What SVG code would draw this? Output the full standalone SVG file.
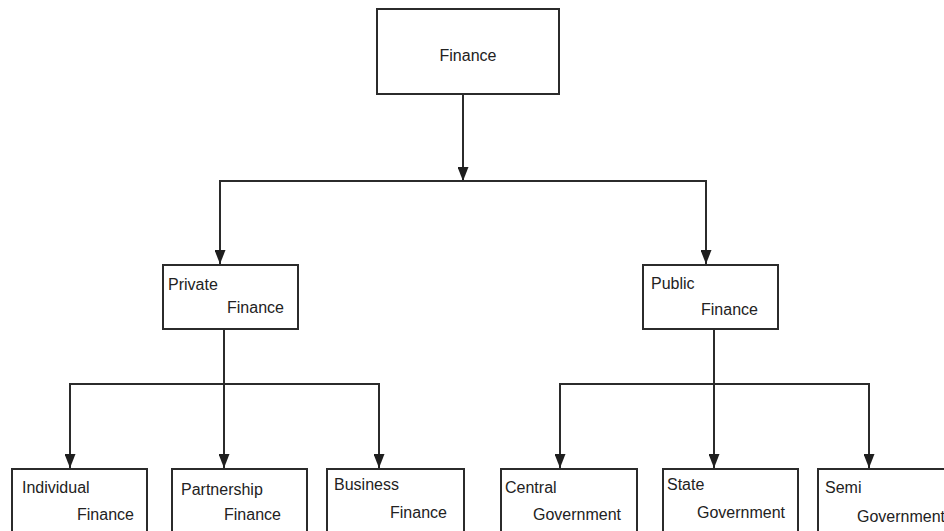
<svg xmlns="http://www.w3.org/2000/svg" width="944" height="531" viewBox="0 0 944 531">
<style>
.box{fill:#fff;stroke:#2b2b2b;stroke-width:2}
.lbl{font-family:"Liberation Sans",Arial,sans-serif;font-size:16px;fill:#222}
.con{fill:none;stroke:#2b2b2b;stroke-width:2}
</style>
<defs>
<marker id="arr" markerUnits="userSpaceOnUse" viewBox="0 0 14 11" markerWidth="14" markerHeight="11" refX="14" refY="5.5" orient="auto">
<path d="M0,0 L14,5.5 L0,11 z" fill="#1e1e1e"/>
</marker>
</defs>
<rect width="944" height="531" fill="#fff"/>
<g id="connectors">
<line class="con" x1="463" y1="94" x2="463" y2="181" marker-end="url(#arr)"/>
<polyline class="con" points="220,250 220,181 706,181 706,250"/>
<line class="con" x1="220" y1="200" x2="220" y2="264" marker-end="url(#arr)"/>
<line class="con" x1="706" y1="200" x2="706" y2="264" marker-end="url(#arr)"/>
<line class="con" x1="224" y1="329" x2="224" y2="468" marker-end="url(#arr)"/>
<polyline class="con" points="70,455 70,384 379,384 379,455"/>
<line class="con" x1="70" y1="420" x2="70" y2="468" marker-end="url(#arr)"/>
<line class="con" x1="379" y1="420" x2="379" y2="468" marker-end="url(#arr)"/>
<line class="con" x1="714" y1="329" x2="714" y2="468" marker-end="url(#arr)"/>
<polyline class="con" points="560,455 560,384 869,384 869,455"/>
<line class="con" x1="560" y1="420" x2="560" y2="468" marker-end="url(#arr)"/>
<line class="con" x1="869" y1="420" x2="869" y2="468" marker-end="url(#arr)"/>
</g>
<g id="finance">
<rect class="box" x="377" y="9" width="182" height="85"/>
<text class="lbl" x="468" y="61" text-anchor="middle">Finance</text>
</g>
<g id="private">
<rect class="box" x="163" y="265" width="135" height="64"/>
<text class="lbl" x="168" y="290">Private</text>
<text class="lbl" x="227" y="313">Finance</text>
</g>
<g id="public">
<rect class="box" x="643" y="265" width="135" height="64"/>
<text class="lbl" x="651" y="289">Public</text>
<text class="lbl" x="701" y="315">Finance</text>
</g>
<g id="individual">
<rect class="box" x="12" y="469" width="135" height="80"/>
<text class="lbl" x="22" y="493">Individual</text>
<text class="lbl" x="77" y="520">Finance</text>
</g>
<g id="partnership">
<rect class="box" x="172" y="469" width="135" height="80"/>
<text class="lbl" x="181" y="495">Partnership</text>
<text class="lbl" x="224" y="520">Finance</text>
</g>
<g id="business">
<rect class="box" x="327" y="469" width="137" height="80"/>
<text class="lbl" x="334" y="490">Business</text>
<text class="lbl" x="390" y="518">Finance</text>
</g>
<g id="central">
<rect class="box" x="501" y="469" width="136" height="80"/>
<text class="lbl" x="505" y="493">Central</text>
<text class="lbl" x="533" y="520">Government</text>
</g>
<g id="state">
<rect class="box" x="663" y="469" width="135" height="80"/>
<text class="lbl" x="667" y="490">State</text>
<text class="lbl" x="697" y="518">Government</text>
</g>
<g id="semi">
<rect class="box" x="818" y="469" width="140" height="80"/>
<text class="lbl" x="825" y="493">Semi</text>
<text class="lbl" x="857" y="522">Government</text>
</g>
</svg>
